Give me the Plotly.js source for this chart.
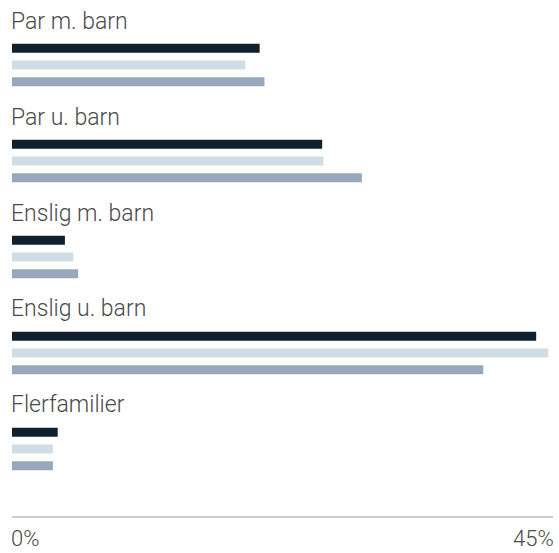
<!DOCTYPE html>
<html>
<head>
<meta charset="utf-8">
<script src="https://cdn.plot.ly/plotly-3.0.1.min.js"></script>
<style>
html,body{margin:0;padding:0;background:#fff;}
#chart{width:559px;height:553px;}
</style>
</head>
<body>
<div id="chart"></div>
<script>
// Data (percent)
var categories = ["Par m. barn", "Par u. barn", "Enslig m. barn", "Enslig u. barn", "Flerfamilier"];
var series1 = [20.6, 25.8, 4.4, 43.6, 3.8];
var series2 = [19.4, 25.9, 5.1, 44.6, 3.4];
var series3 = [21.0, 29.1, 5.5, 39.2, 3.4];
var tickVals = [0, 45];
var tickText = ["0%", "45%"];

var colors = ["#10202f", "#cfdde5", "#97a8ba"];
var seriesList = [series1, series2, series3];
var FONT = "Roboto, 'Liberation Sans', Arial, sans-serif";

var traces = seriesList.map(function (s, i) {
  return {
    type: "bar",
    orientation: "h",
    y: categories,
    x: s,
    marker: {color: colors[i], line: {width: 0}},
    hoverinfo: "none",
    showlegend: false
  };
});

var annotations = [];
categories.forEach(function (c) {
  annotations.push({
    xref: "x", yref: "y", x: 0, y: c,
    xanchor: "left", yanchor: "middle",
    yshift: 44, xshift: -3,
    text: c, showarrow: false,
    font: {family: FONT, size: 23, color: "#4a4a4a", weight: 300}
  });
});
tickVals.forEach(function (v, i) {
  annotations.push({
    xref: "x", yref: "paper", x: v, y: 0,
    xanchor: i === 0 ? "left" : "right", yanchor: "top",
    xshift: i === 0 ? -3 : 3, yshift: -8,
    text: tickText[i], showarrow: false,
    font: {family: FONT, size: 22, color: "#4a4a4a", weight: 300}
  });
});

var layout = {
  width: 559, height: 553,
  margin: {l: 12, r: 6, t: 17, b: 37, pad: 0},
  paper_bgcolor: "#fff", plot_bgcolor: "#fff",
  barmode: "group",
  bargap: 0.479,
  bargroupgap: 0.46,
  xaxis: {
    range: [0, 45], showgrid: false, zeroline: false,
    showline: true, linecolor: "#cccccc", linewidth: 1.5,
    showticklabels: false, ticks: "", fixedrange: true
  },
  yaxis: {
    type: "category",
    categoryorder: "array", categoryarray: categories,
    range: [4.698, -0.5],
    showgrid: false, zeroline: false, showline: false,
    showticklabels: false, ticks: "", fixedrange: true
  },
  annotations: annotations,
  font: {family: FONT}
};

Plotly.newPlot("chart", traces, layout, {displayModeBar: false, staticPlot: true});
</script>
</body>
</html>
